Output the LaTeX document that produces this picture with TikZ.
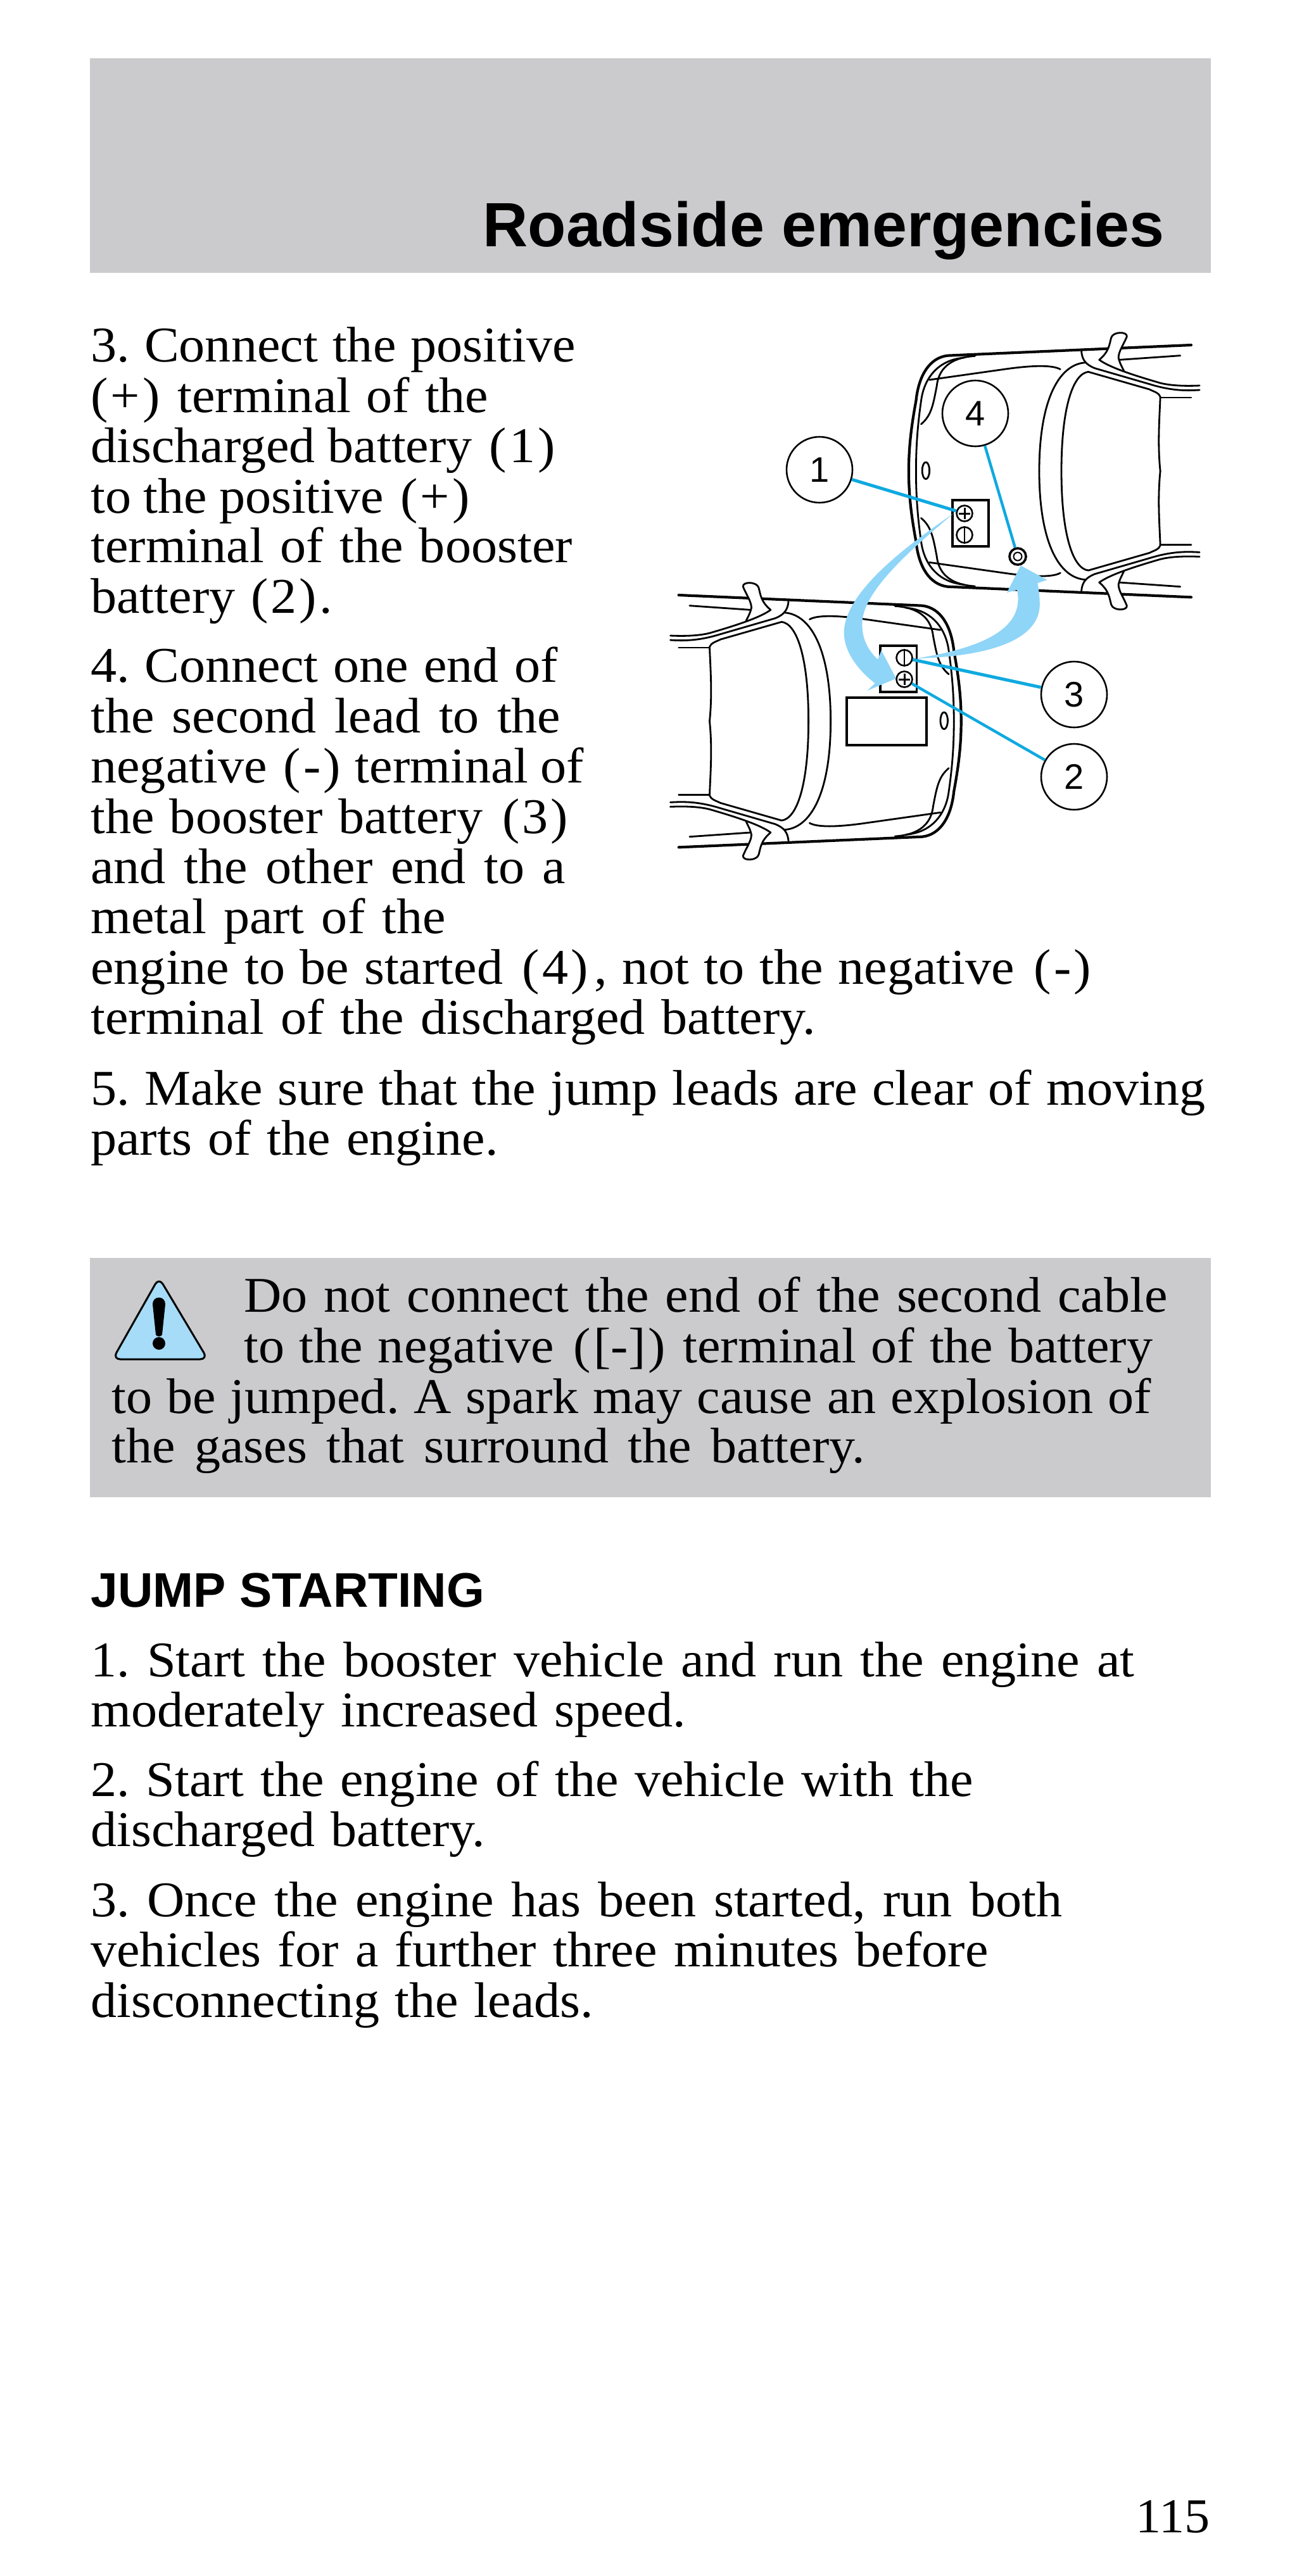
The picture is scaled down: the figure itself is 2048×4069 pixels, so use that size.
\documentclass[tikz,border=0pt]{standalone}
\usepackage{fontspec}
\setmainfont[FakeStretch=1.04]{Liberation Serif}
\newfontfamily\headfont{Liberation Sans}
\definecolor{panelgray}{HTML}{CBCBCD}
\definecolor{leadblue}{HTML}{0FA9E0}
\definecolor{arrowblue}{HTML}{8FD5F7}
\definecolor{warnblue}{HTML}{A6DCF8}
\newcommand{\lp}{\kern3.5pt(\kern2pt}
\newcommand{\rp}{\kern2pt)\kern2pt}
\newcommand{\fit}[2]{{\frenchspacing\spaceskip=.28em plus 1fil minus 1fil\hbox to #1pt{#2}}}
\hbadness=10000
\hfuzz=100pt
\newcommand{\carhalf}{%
  \draw[carthick] (1465,135)--(795,185) .. controls (745,195) and (715,280) .. (708,400) .. controls (695,520) and (688,620) .. (688,732.5);
  \draw[carthin] (840,195) .. controls (770,205) and (730,290) .. (722,400) .. controls (712,520) and (708,620) .. (708,732.5);
  \draw[carthin] (870,187) .. controls (800,195) and (770,250) .. (765,330) .. controls (755,420) and (750,470) .. (722,510);
  \draw[carthin] (745,300)--(950,250) .. controls (1010,235) and (1080,225) .. (1105,250);
  \draw[carthin] (1175,218) .. controls (1100,225) and (1047,400) .. (1047,732.5);
  \draw[carthin] (1380,732.5) .. controls (1372,600) and (1378,480) .. (1380,380) .. controls (1375,360) and (1365,358) .. (1350,345) -- (1182,262) .. controls (1140,270) and (1108,430) .. (1108,732.5);
  \draw[carthin] (1380,384)--(1465,384);
  \fill[white] (1212,205) .. controls (1240,165) and (1240,130) .. (1245,100) .. controls (1250,70) and (1290,70) .. (1288,95) .. controls (1280,130) and (1265,165) .. (1265,195) .. controls (1268,220) and (1275,240) .. (1280,258) -- cycle;
  \draw[carthin] (1163,165) .. controls (1165,205) and (1175,228) .. (1200,245) -- (1350,320) .. controls (1410,352) and (1450,352) .. (1488,348);
  \draw[carthin] (1212,205) .. controls (1240,240) and (1300,275) .. (1380,315) .. controls (1410,328) and (1450,330) .. (1488,327);
  \draw[carthin] (1212,205) .. controls (1240,165) and (1240,130) .. (1245,100) .. controls (1250,70) and (1290,70) .. (1288,95) .. controls (1280,130) and (1265,165) .. (1265,195) .. controls (1268,220) and (1275,240) .. (1280,258);
  \draw[carthin] (1268,205)--(1435,185);
}
\newcommand{\carbody}{%
  \carhalf
  \begin{scope}[shift={(0,1465)},yscale=-1]\carhalf\end{scope}
  \draw[carthin] (735,730) ellipse [x radius=10,y radius=40];
}
\tikzset{
  tl/.style={anchor=base west,inner sep=0pt,font=\fontsize{39.5}{40}\selectfont,text=black},
  carthick/.style={black,line width=2.1pt,line cap=round,line join=round},
  carthin/.style={black,line width=1.4pt,line cap=round,line join=round},
  callout/.style={circle,draw=black,fill=white,line width=1.3pt,minimum size=52pt,inner sep=0pt,font=\headfont\fontsize{28}{28}\selectfont},
  term/.style={circle,draw=black,fill=white,line width=1.3pt,minimum size=12.5pt,inner sep=0pt},
  leadA/.style={leadblue,line width=2.5pt},
  leadB/.style={leadblue,line width=2.2pt},
  batt/.style={black,line width=1.9pt},
}
\begin{document}
\begin{tikzpicture}[x=0.5pt,y=-0.5pt]
\useasboundingbox (0,0) rectangle (2048,4069);
\fill[white] (0,0) rectangle (2048,4069);
\fill[panelgray] (142,92) rectangle (1912,431);
\fill[panelgray] (142,1987) rectangle (1912,2365);
\node[anchor=base east,inner sep=0pt,font=\headfont\bfseries\fontsize{49.4}{50}\selectfont] (title) at (1839,389) {Roadside emergencies};
% paragraph 3
\node[tl] (a1) at (143,571) {\fit{382.7}{3. Connect the positive}};
\node[tl] (a2) at (143,651) {\fit{314}{(\kern2pt+\rp{} terminal of the}};
\node[tl] (a3) at (143,730) {\fit{368.5}{discharged battery \lp 1\rp}};
\node[tl] (a4) at (143,810) {\fit{301}{to the positive \lp +\rp}};
\node[tl] (a5) at (143,888) {\fit{380.2}{terminal of the booster}};
\node[tl] (a6) at (143,968) {\fit{190.7}{battery \lp 2\rp.}};
% paragraph 4
\node[tl] (b1) at (143,1077) {\fit{368.5}{4. Connect one end of}};
\node[tl] (b2) at (143,1157) {\fit{371}{the second lead to the}};
\node[tl] (b3) at (143,1236) {\fit{389.2}{negative \lp -\rp{} terminal of}};
\node[tl] (b4) at (143,1316) {\fit{378.9}{the booster battery \lp 3\rp}};
\node[tl] (b5) at (143,1395) {\fit{375}{and the other end to a}};
\node[tl] (b6) at (143,1474) {\fit{280.2}{metal part of the}};
\node[tl] (b7) at (143,1554) {\fit{791.6}{engine to be started \lp 4\rp\kern3pt, not to the negative \lp -\rp}};
\node[tl] (b8) at (143,1633) {\fit{572.2}{terminal of the discharged battery.}};
\node[tl] (c1) at (143,1745) {\fit{879.8}{5. Make sure that the jump leads are clear of moving}};
\node[tl] (c2) at (143,1824) {\fit{321.7}{parts of the engine.}};
% warning
\node[tl] (w1) at (385,2072) {\fit{729}{Do not connect the end of the second cable}};
\node[tl] (w2) at (385,2152) {\fit{717.3}{to the negative \lp[-]\rp{} terminal of the battery}};
\node[tl] (w3) at (176,2232) {\fit{820.5}{to be jumped. A spark may cause an explosion of}};
\node[tl] (w4) at (176,2310) {\fit{594.7}{the gases that surround the battery.}};
\draw[fill=warnblue,draw=black,line width=1.5pt,rounded corners=6pt] (251,2018) -- (178,2147) -- (328,2147) -- cycle;
\fill[black] (241,2060) .. controls (241,2046) and (261,2046) .. (261,2060) -- (256,2108) .. controls (255,2112) and (247,2112) .. (246,2108) -- cycle;
\fill[black] (251,2122) circle [radius=10];
% jump starting
\node[anchor=base west,inner sep=0pt,font=\headfont\bfseries\fontsize{38.4}{38}\selectfont] (jump) at (143,2538) {JUMP STARTING};
\node[tl] (d1) at (143,2648) {\fit{824}{1. Start the booster vehicle and run the engine at}};
\node[tl] (d2) at (143,2727) {\fit{469.7}{moderately increased speed.}};
\node[tl] (d3) at (143,2837) {\fit{696.8}{2. Start the engine of the vehicle with the}};
\node[tl] (d4) at (143,2916) {\fit{311.4}{discharged battery.}};
\node[tl] (d5) at (143,3027) {\fit{766.9}{3. Once the engine has been started, run both}};
\node[tl] (d6) at (143,3106) {\fit{708.5}{vehicles for a further three minutes before}};
\node[tl] (d7) at (143,3186) {\fit{397}{disconnecting the leads.}};
\node[anchor=base east,inner sep=0pt,font=\fontsize{38.5}{40}\selectfont] (page) at (1911,4000) {115};
% cars
\begin{scope}[shift={(1040,500)},x=0.287pt,y=-0.16667pt]
  \carbody
  \draw[batt] (808,870) rectangle (907,1090);
\end{scope}
\begin{scope}[shift={(1912.6,895)},x=-0.287pt,y=-0.16667pt]
  \carbody
\end{scope}
\begin{scope}[shift={(1040,900)},x=0.287pt,y=-0.16667pt]
  \draw[batt] (610,360) rectangle (710,580);
  \draw[batt] (517,605) rectangle (737,832);
\end{scope}
% arrows
\begin{scope}[shift={(1300,790)},x=0.16667pt,y=-0.16667pt]
\fill[arrowblue] (618,62) .. controls (420,200) and (110,420) .. (98,620) .. controls (95,720) and (170,810) .. (245,868) -- (208,903) -- (345,845) -- (275,712) -- (258,755) .. controls (200,700) and (180,640) .. (185,570) .. controls (200,420) and (420,230) .. (618,62) -- cycle;
\fill[arrowblue] (440,750) .. controls (640,745) and (1040,710) .. (1025,480) .. controls (1024,450) and (1020,420) .. (1015,393) -- (1060,378) -- (935,310) -- (870,438) -- (918,425) .. controls (950,580) and (820,690) .. (440,750) -- cycle;
\end{scope}
% terminals
\node[term] (tp1) at (1523,811) {};
\draw[line width=1.5pt,shorten <=2.5pt,shorten >=2.5pt] (tp1.north) -- (tp1.south);
\draw[line width=1.5pt,shorten <=2.5pt,shorten >=2.5pt] (tp1.west) -- (tp1.east);
\node[term] (tm1) at (1523,845) {};
\draw[line width=1.2pt] (tm1.north) -- (tm1.south);
\node[term] (tm2) at (1428,1039) {};
\draw[line width=1.2pt] (tm2.north) -- (tm2.south);
\node[term] (tp2) at (1428,1073) {};
\draw[line width=1.5pt,shorten <=2.5pt,shorten >=2.5pt] (tp2.north) -- (tp2.south);
\draw[line width=1.5pt,shorten <=2.5pt,shorten >=2.5pt] (tp2.west) -- (tp2.east);
\node[circle,draw=black,fill=white,line width=1.8pt,minimum size=13pt,inner sep=0pt] (stud) at (1607,879) {};
\node[circle,draw=black,line width=1pt,minimum size=6.5pt,inner sep=0pt] (studin) at (stud.center) {};
% callouts
\node[callout] (n1) at (1294,742) {1};
\node[callout] (n4) at (1540,653) {4};
\node[callout] (n3) at (1696,1097) {3};
\node[callout] (n2) at (1696,1227) {2};
\draw[leadA] (n1) -- (tp1);
\draw[leadB] (n4) -- (stud);
\draw[leadA] (n3) -- (tm2);
\draw[leadB] (n2) -- (tp2);
\end{tikzpicture}
\end{document}
